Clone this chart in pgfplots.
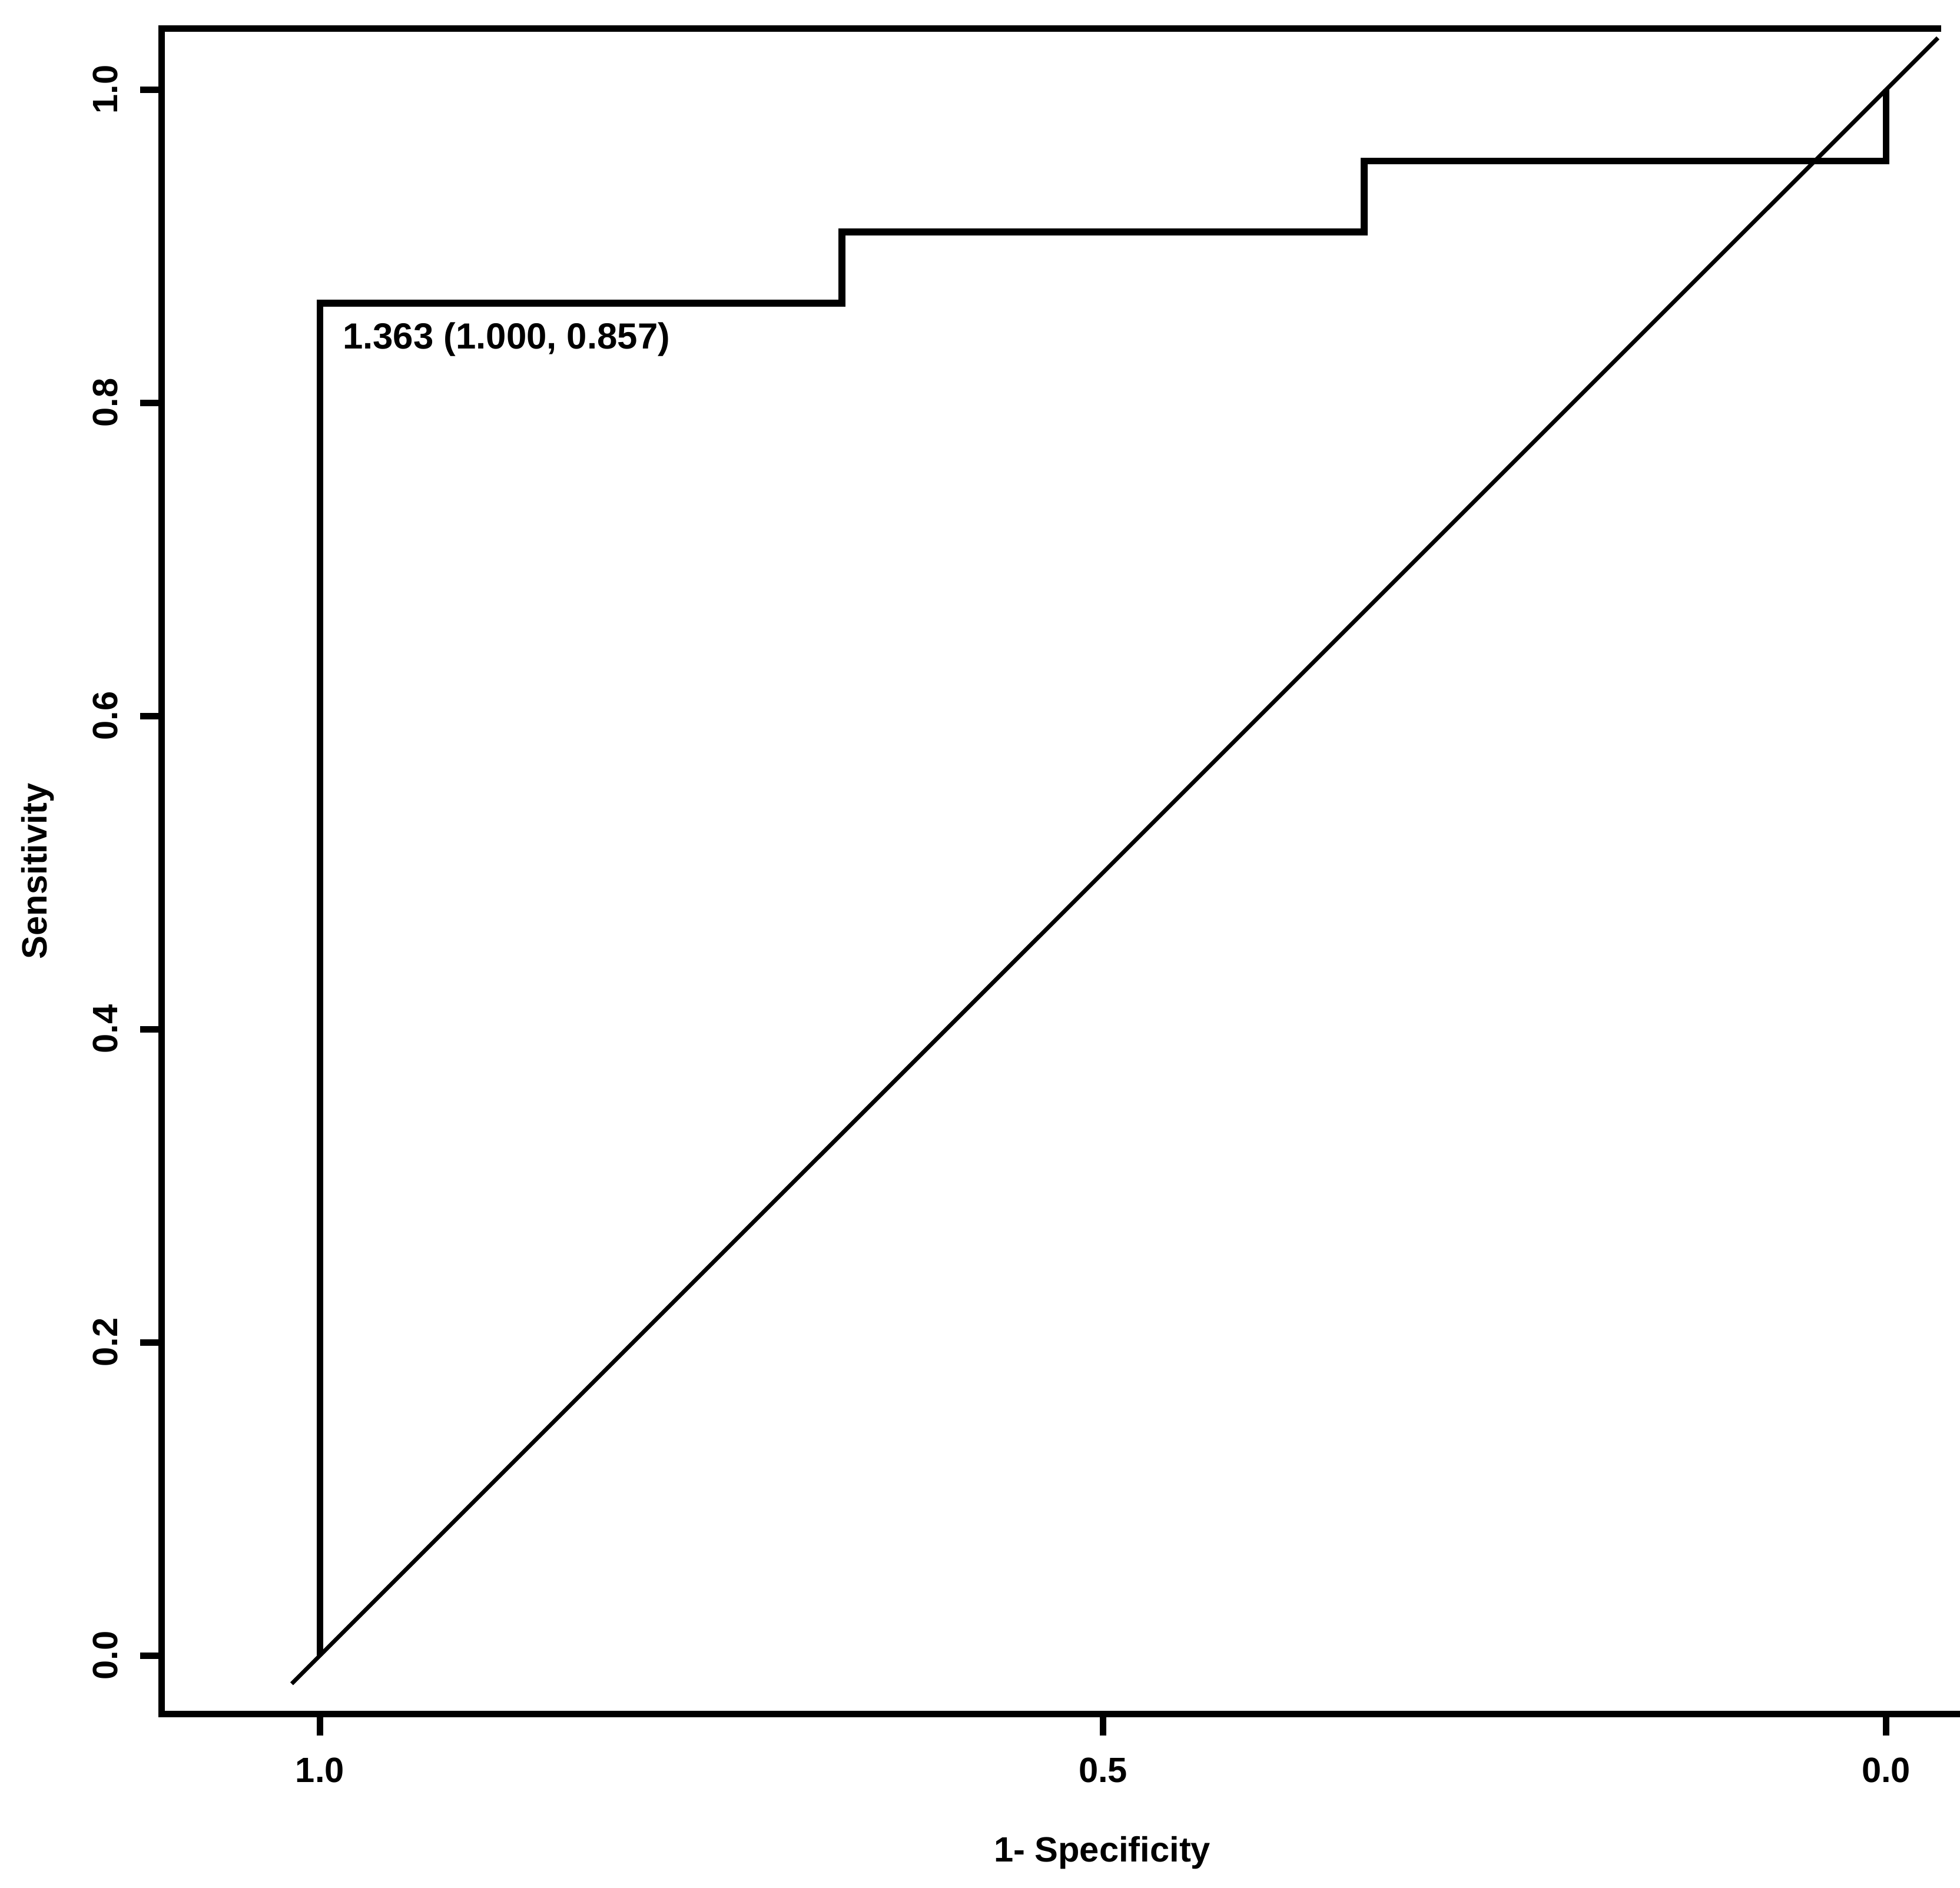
\documentclass[border=0pt]{standalone}
\usepackage{fontspec}
\setmainfont{Liberation Sans}
\usepackage{pgfplots}
\pgfplotsset{compat=1.18}
\begin{document}
\begin{tikzpicture}
\begin{axis}[
  at={(39.6pt,42.5pt)}, anchor=south west,
  scale only axis,
  width=460.7pt, height=412.8pt,
  x dir=reverse,
  xmin=-0.1, xmax=1.101,
  ymin=-0.0373, ymax=1.039,
  clip=false,
  axis line style={draw=none},
  tick pos=left,
  tick align=outside,
  major tick length=5.3pt,
  every tick/.style={line width=1.6pt, black},
  xtick={0,0.5,1}, xticklabels={0.0,0.5,1.0},
  ytick={0,0.2,0.4,0.6,0.8,1}, yticklabels={0.0,0.2,0.4,0.6,0.8,1.0},
  ticklabel style={font=\bfseries\fontsize{8.6}{10}\selectfont},
  xticklabel style={anchor=base, yshift=-11.5pt},
  yticklabel style={xshift=-5.5pt, rotate=90, anchor=base},
  xlabel={1- Specificity}, ylabel={Sensitivity},
  every axis x label/.style={at={(axis description cs:0.5,0)}, yshift=-36.2pt, anchor=base, font=\bfseries\fontsize{8.6}{10}\selectfont},
  every axis y label/.style={at={(axis description cs:0,0.5)}, xshift=-28.1pt, rotate=90, anchor=base, font=\bfseries\fontsize{8.6}{10}\selectfont},
]
\draw[line width=1.6pt, line join=miter, line cap=rect]
  (axis cs:-0.033,1.039) -- (axis cs:1.101,1.039) -- (axis cs:1.101,-0.0373) -- (axis cs:-0.1,-0.0373);
\addplot[line width=1pt] coordinates {(1.018,-0.018) (-0.033,1.033)};
\addplot[line width=1.6pt, line join=miter] coordinates {
  (1,0) (1,0.8636) (0.6667,0.8636) (0.6667,0.9091)
  (0.3333,0.9091) (0.3333,0.9545) (0,0.9545) (0,1)};
\node[anchor=base west, inner sep=0pt, font=\bfseries\fontsize{8.9}{10}\selectfont, xshift=5.4pt, yshift=-11.2pt]
  at (axis cs:1,0.8636) {1.363 (1.000, 0.857)};
\end{axis}
\pgfresetboundingbox
\useasboundingbox (0,0) rectangle (480pt,462.29pt);
\end{tikzpicture}
\end{document}
